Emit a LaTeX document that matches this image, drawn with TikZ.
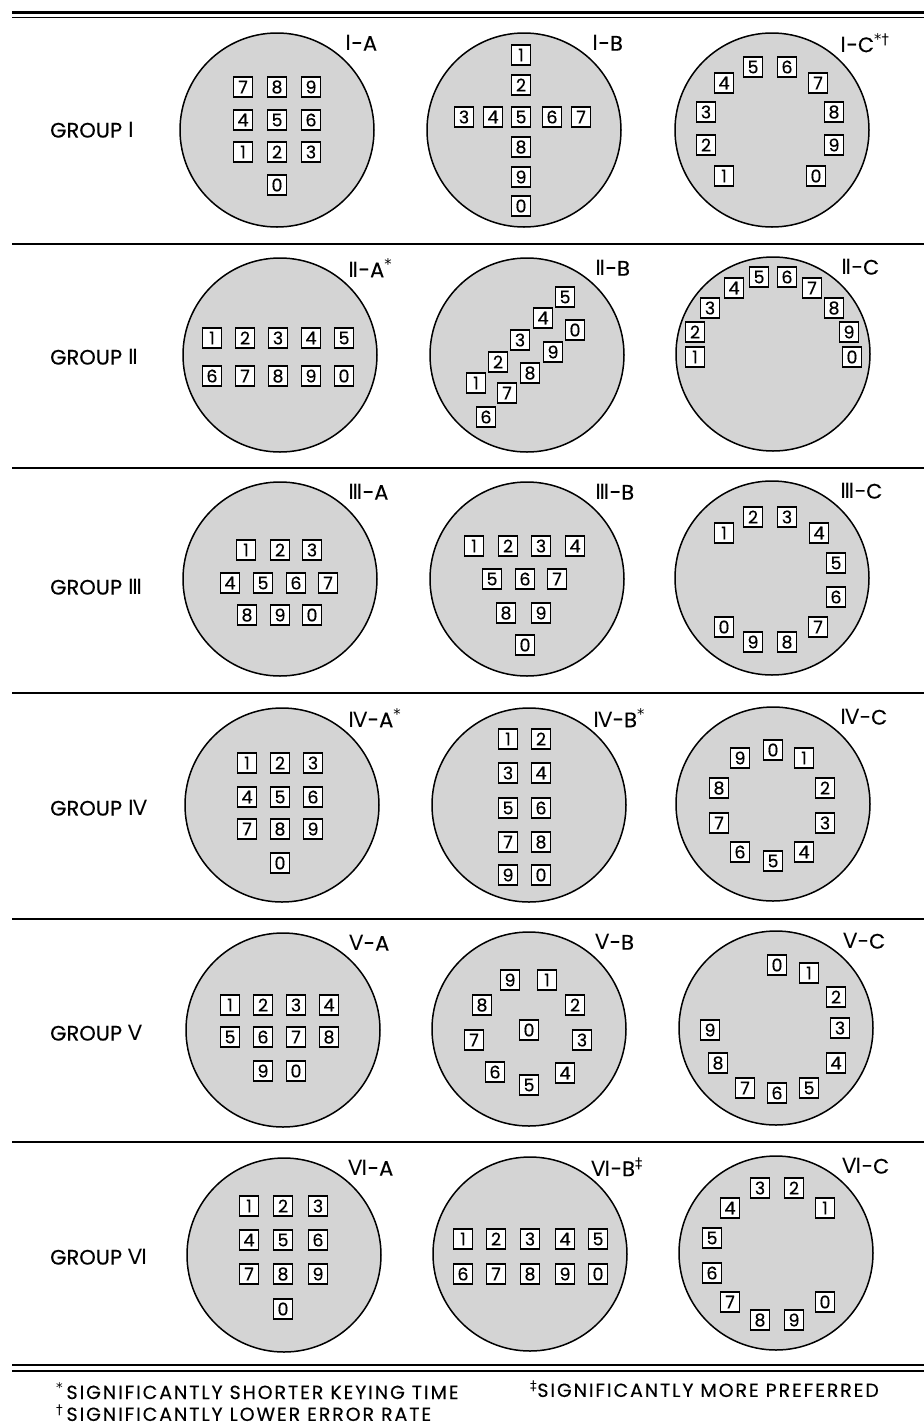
\documentclass[tikz,border=0pt]{standalone}
\usepackage{fontspec}
\setmainfont{Poppins}
\newfontfamily\romfont{DejaVu Sans}
\usetikzlibrary{positioning,calc}
\newcommand\romnum[1]{{\romfont #1}}

\begin{document}
\begin{tikzpicture}[x=1pt, y=-1pt,
		pad/.style={shape=circle, minimum size=194pt, inner sep=0pt, draw, line width=1.5pt, fill=black!17},
		key/.style={shape=rectangle, draw, line width=1.4pt, fill=white, minimum width=19pt, minimum height=20pt, inner sep=0pt, font=\fontsize{17.5}{17.5}\selectfont\addfontfeatures{FakeBold=0.4}},
		padname/.style={anchor=west, inner sep=0pt, font=\fontsize{21}{21}\selectfont\addfontfeatures{FakeBold=0.3}},
		grouplabel/.style={anchor=west, inner sep=0pt, font=\fontsize{21}{21}\selectfont\addfontfeatures{FakeBold=0.3}},
		note/.style={anchor=west, inner sep=0pt, font=\fontsize{19}{19}\selectfont\addfontfeatures{LetterSpace=10,FakeBold=0.3}},
		rule/.style={line width=1.2pt}]
		\useasboundingbox (0,0) rectangle (924,1425);

		\draw[rule, line width=2.4pt] (12,12.5) -- (924,12.5);
		\draw[rule] (12,17.8) -- (924,17.8);
		\foreach \ry in {244,468,693,919,1142}
			\draw[rule] (12,\ry) -- (924,\ry);
		\draw[rule] (12,1365) -- (924,1365);
		\draw[rule, line width=2.2pt] (12,1371) -- (924,1371);

		\node[grouplabel] (G1) at (50,130) {GROUP \romnum{Ⅰ}};
		\node[pad] (IA) at (277,130) {};
		\node[pad] (IB) at (524,130) {};
		\node[pad] (IC) at (772,130) {};
		\node[padname] (IA-name) at ($(IA)+(68,-87)$) {\romnum{Ⅰ}-A};
		\node[padname] (IB-name) at ($(IB)+(68,-87)$) {\romnum{Ⅰ}-B};
		\node[padname] (IC-name) at ($(IC)+(68,-87)$) {\romnum{Ⅰ}-C\textsuperscript{\romfont *†}};
		\foreach \k/\x/\y in {7/243/87, 8/277/87, 9/311/87, 4/243/120, 5/277/120, 6/311/120, 1/243/152, 2/277/152, 3/311/152, 0/277/185}
			\node[key] (IA-\k) at (\x,\y) {\k};
		\foreach \k/\x/\y in {1/521/55, 2/521/85, 3/464/117, 4/493/117, 5/521/117, 6/552/117, 7/581/117, 8/521/147, 9/521/177, 0/521/206}
			\node[key] (IB-\k) at (\x,\y) {\k};
		\foreach \k/\x/\y in {5/753/67, 6/787/67, 4/724/83, 7/818/83, 3/706/112, 8/834/112, 2/706/145, 9/834/145, 1/724/176, 0/816/176}
			\node[key] (IC-\k) at (\x,\y) {\k};

		\node[grouplabel] (G2) at (50,357) {GROUP \romnum{Ⅱ}};
		\node[pad] (IIA) at (280,355) {};
		\node[pad] (IIB) at (527,355) {};
		\node[pad] (IIC) at (773,354) {};
		\node[padname] (IIA-name) at ($(IIA)+(68,-87)$) {\romnum{Ⅱ}-A\textsuperscript{\romfont *}};
		\node[padname] (IIB-name) at ($(IIB)+(68,-87)$) {\romnum{Ⅱ}-B};
		\node[padname] (IIC-name) at ($(IIC)+(68,-87)$) {\romnum{Ⅱ}-C};
		\foreach \k/\x/\y in {1/212/338, 2/245/338, 3/278/338, 4/311/338, 5/344/338, 6/212/376, 7/245/376, 8/278/376, 9/311/376, 0/344/376}
			\node[key] (IIA-\k) at (\x,\y) {\k};
		\foreach \k/\x/\y in {5/565/297, 4/543/318, 0/575/330, 3/520/340, 9/553/352, 2/498/362, 8/530/373, 1/476/383, 7/507/393, 6/486/417}
			\node[key] (IIB-\k) at (\x,\y) {\k};
		\foreach \k/\x/\y in {1/695/357, 2/695/332, 3/710/308, 4/734/288, 5/759/277, 6/787/277, 7/812/288, 8/834/308, 9/849/332, 0/852/357}
			\node[key] (IIC-\k) at (\x,\y) {\k};

		\node[grouplabel] (G3) at (50,587) {GROUP \romnum{Ⅲ}};
		\node[pad] (IIIA) at (280,579) {};
		\node[pad] (IIIB) at (527,579) {};
		\node[pad] (IIIC) at (772,578) {};
		\node[padname] (IIIA-name) at ($(IIIA)+(68,-87)$) {\romnum{Ⅲ}-A};
		\node[padname] (IIIB-name) at ($(IIIB)+(68,-87)$) {\romnum{Ⅲ}-B};
		\node[padname] (IIIC-name) at ($(IIIC)+(68,-87)$) {\romnum{Ⅲ}-C};
		\foreach \k/\x/\y in {1/246/550, 2/280/550, 3/312/550, 4/230/583, 5/263/583, 6/296/583, 7/328/583, 8/247/615, 9/280/615, 0/312/615}
			\node[key] (IIIA-\k) at (\x,\y) {\k};
		\foreach \k/\x/\y in {1/474/546, 2/508/546, 3/541/546, 4/575/546, 5/492/579, 6/525/579, 7/557/579, 8/506/613, 9/541/613, 0/525/645}
			\node[key] (IIIB-\k) at (\x,\y) {\k};
		\foreach \k/\x/\y in {1/724/533, 2/753/517, 3/787/517, 4/819/533, 5/836/563, 6/836/597, 7/818/627, 8/787/642, 9/753/642, 0/724/627}
			\node[key] (IIIC-\k) at (\x,\y) {\k};

		\node[grouplabel] (G4) at (50,808) {GROUP \romnum{Ⅳ}};
		\node[pad] (IVA) at (282,805) {};
		\node[pad] (IVB) at (529,805) {};
		\node[pad] (IVC) at (773,804) {};
		\node[padname] (IVA-name) at ($(IVA)+(66,-87)$) {\romnum{Ⅳ}-A\textsuperscript{\romfont *}};
		\node[padname] (IVB-name) at ($(IVB)+(64,-87)$) {\romnum{Ⅳ}-B\textsuperscript{\romfont *}};
		\node[padname] (IVC-name) at ($(IVC)+(67,-87)$) {\romnum{Ⅳ}-C};
		\foreach \k/\x/\y in {1/247/763, 2/280/763, 3/313/763, 4/247/797, 5/280/797, 6/313/797, 7/247/829, 8/280/829, 9/313/829, 0/280/863}
			\node[key] (IVA-\k) at (\x,\y) {\k};
		\foreach \k/\x/\y in {1/508/739, 2/541/739, 3/508/773, 4/541/773, 5/508/808, 6/541/808, 7/508/842, 8/541/842, 9/508/875, 0/541/875}
			\node[key] (IVB-\k) at (\x,\y) {\k};
		\foreach \k/\x/\y in {0/773/750, 1/804/758, 9/740/758, 8/719/788, 2/825/788, 7/719/823, 3/825/823, 6/740/852, 4/804/852, 5/773/861}
			\node[key] (IVC-\k) at (\x,\y) {\k};

		\node[grouplabel] (G5) at (50,1033) {GROUP \romnum{Ⅴ}};
		\node[pad] (VA) at (283,1030) {};
		\node[pad] (VB) at (529,1029) {};
		\node[pad] (VC) at (776,1028) {};
		\node[padname] (VA-name) at ($(VA)+(66,-87)$) {\romnum{Ⅴ}-A};
		\node[padname] (VB-name) at ($(VB)+(66,-87)$) {\romnum{Ⅴ}-B};
		\node[padname] (VC-name) at ($(VC)+(67,-87)$) {\romnum{Ⅴ}-C};
		\foreach \k/\x/\y in {1/230/1005, 2/263/1005, 3/296/1005, 4/329/1005, 5/230/1037, 6/263/1037, 7/296/1037, 8/329/1037, 9/263/1071, 0/296/1071}
			\node[key] (VA-\k) at (\x,\y) {\k};
		\foreach \k/\x/\y in {9/510/980, 1/547/980, 8/482/1005, 2/575/1005, 7/474/1040, 0/529/1030, 3/582/1040, 6/495/1072, 4/565/1073, 5/529/1085}
			\node[key] (VB-\k) at (\x,\y) {\k};
		\foreach \k/\x/\y in {0/777/965, 1/809/973, 2/836/997, 3/840/1028, 4/836/1063, 5/809/1088, 6/777/1093, 7/745/1088, 8/718/1063, 9/710/1030}
			\node[key] (VC-\k) at (\x,\y) {\k};

		\node[grouplabel] (G6) at (50,1257) {GROUP \romnum{Ⅵ}};
		\node[pad] (VIA) at (284,1255) {};
		\node[pad] (VIB) at (530,1254) {};
		\node[pad] (VIC) at (776,1253) {};
		\node[padname] (VIA-name) at ($(VIA)+(64,-87)$) {\romnum{Ⅵ}-A};
		\node[padname] (VIB-name) at ($(VIB)+(61,-87)$) {\romnum{Ⅵ}-B\textsuperscript{\romfont ‡}};
		\node[padname] (VIC-name) at ($(VIC)+(66,-87)$) {\romnum{Ⅵ}-C};
		\foreach \k/\x/\y in {1/249/1206, 2/283/1206, 3/318/1206, 4/249/1240, 5/283/1240, 6/318/1240, 7/249/1274, 8/283/1274, 9/318/1274, 0/283/1309}
			\node[key] (VIA-\k) at (\x,\y) {\k};
		\foreach \k/\x/\y in {1/463/1239, 2/496/1239, 3/530/1239, 4/565/1239, 5/598/1239, 6/463/1274, 7/496/1274, 8/530/1274, 9/565/1274, 0/598/1274}
			\node[key] (VIB-\k) at (\x,\y) {\k};
		\foreach \k/\x/\y in {3/760/1188, 2/794/1188, 4/730/1208, 1/825/1208, 5/712/1238, 6/712/1273, 7/730/1302, 0/825/1302, 8/760/1320, 9/794/1320}
			\node[key] (VIC-\k) at (\x,\y) {\k};

		\node[note] (fn-time) at (56,1391) {\textsuperscript{\romfont *}\,SIGNIFICANTLY SHORTER KEYING TIME};
		\node[note] (fn-error) at (56,1413) {\textsuperscript{\romfont †}\,SIGNIFICANTLY LOWER ERROR RATE};
		\node[note] (fn-pref) at (530,1389) {\textsuperscript{\romfont ‡}SIGNIFICANTLY MORE PREFERRED};
	\end{tikzpicture}
\end{document}
